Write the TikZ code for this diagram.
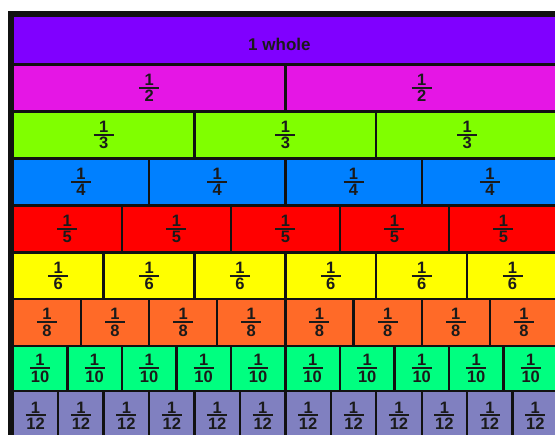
\documentclass[tikz,border=0pt]{standalone}
\usepackage{fontspec}
\setmainfont{Liberation Sans}
\definecolor{cwhole}{HTML}{8000FF}
\definecolor{chalf}{HTML}{E516E5}
\definecolor{cthird}{HTML}{80FF00}
\definecolor{cfourth}{HTML}{0080FF}
\definecolor{cfifth}{HTML}{FF0000}
\definecolor{csixth}{HTML}{FFFF00}
\definecolor{ceighth}{HTML}{FF6A28}
\definecolor{ctenth}{HTML}{00FF80}
\definecolor{ctwelfth}{HTML}{8080C0}
\definecolor{framec}{HTML}{111111}
\definecolor{textc}{HTML}{1A1A1A}
\newcommand\fracbox[1]{\vbox{\hbox to 20pt{\hss 1\hss}\kern1.4pt\hrule height 2pt\kern1.4pt\hbox to 20pt{\hss #1\hss}}}
\newcommand\wholebox{\vbox{\kern9pt\hbox{\fontsize{17}{17}\selectfont 1 whole\kern12pt}}}
\begin{document}
\begin{tikzpicture}[x=1pt,y=-1pt,
  cell/.style={inner sep=0pt, outer sep=0pt, font=\fontsize{16.5}{16.5}\selectfont\bfseries, text=textc}]
\useasboundingbox (0,0) rectangle (555,435);
\fill[white] (0,0) rectangle (555,435);
\clip (0,0) rectangle (555,435);
\fill[framec] (8,11) rectangle (562,442);
\def\sepY{{15.8,64.5,111.5,158.5,205.5,252.5,299,346,391,440}}
\foreach \n/\col [count=\r from 1] in {1/cwhole,2/chalf,3/cthird,4/cfourth,5/cfifth,6/csixth,8/ceighth,10/ctenth,12/ctwelfth}{
  \pgfmathsetmacro\yt{\sepY[\r-1]+1.2}
  \pgfmathsetmacro\yb{\sepY[\r]-1.2}
  \pgfmathsetmacro\yc{(\yt+\yb)/2}
  \pgfmathsetmacro\hh{\yb-\yt}
  \foreach \k in {1,...,\n}{
    \pgfmathsetmacro\xl{12.8+(\k-1)*545.2/\n+1.2}
    \pgfmathsetmacro\xr{12.8+\k*545.2/\n-1.2}
    \pgfmathsetmacro\xc{(\xl+\xr)/2}
    \pgfmathsetmacro\ww{\xr-\xl}
    \node[cell, fill=\col, minimum width=\ww pt, minimum height=\hh pt] (c-\r-\k) at (\xc,\yc)
      {\ifnum\n=1\relax\wholebox\else\fracbox{\n}\fi};
  }
}
\end{tikzpicture}
\end{document}
